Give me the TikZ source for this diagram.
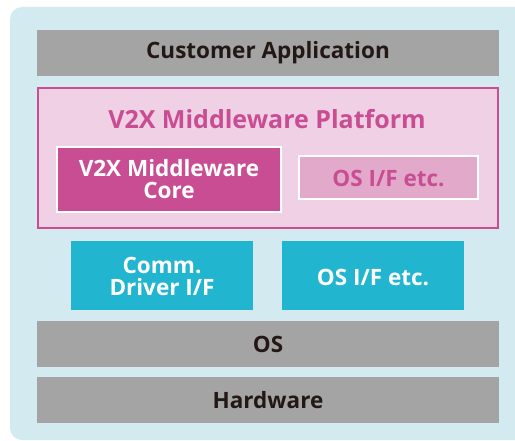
\documentclass[tikz,border=0pt]{standalone}
\usepackage{fontspec}
\newfontfamily\lblfont{Open Sans}
\definecolor{bgblue}{HTML}{D3EAF1}
\definecolor{barg}{HTML}{A3A4A3}
\definecolor{txt}{HTML}{231815}
\definecolor{pfill}{HTML}{F0D0E4}
\definecolor{pdark}{HTML}{C94D93}
\definecolor{plight}{HTML}{E2A9CB}
\definecolor{cyanb}{HTML}{22B5CF}
\tikzset{
  lbl/.style={font=\lblfont\bfseries\fontsize{22.5}{24}\selectfont, align=center},
  lbltwo/.style={font=\lblfont\bfseries\fontsize{22.5}{22}\selectfont, align=center},
  bar/.style={fill=barg, draw=none},
}
\begin{document}
\begin{tikzpicture}[x=1pt,y=-1pt]
\useasboundingbox (0,0) rectangle (515,441);
\fill[white] (0,0) rectangle (515,441);
\fill[bgblue, rounded corners=12pt] (10,7) rectangle (540,440);
% bars
\fill[bar] (37,30) rectangle (499,76);
\node[lbl, text=txt] (app) at (268,53) {Customer Application};
% platform
\draw[fill=pfill, draw=pdark, line width=1.6pt] (38,88) rectangle (498,228);
\node[lbl, text=pdark, font=\lblfont\bfseries\fontsize{25}{26}\selectfont] (plat) at (267,119) {V2X Middleware Platform};
\draw[fill=pdark, draw=white, line width=1.6pt] (57,147) rectangle (281,212);
\node[lbltwo, text=white] (core) at (169,179.5) {V2X Middleware\\Core};
\draw[fill=plight, draw=white, line width=1.6pt] (299,156) rectangle (478,199);
\node[lbl, text=pdark] (osif1) at (388.5,178) {OS I/F etc.};
% cyan
\fill[cyanb] (71,241) rectangle (253,310);
\node[lbltwo, text=white] (comm) at (162,276) {Comm.\\Driver I/F};
\fill[cyanb] (282,241) rectangle (464,310);
\node[lbl, text=white] (osif2) at (373,277) {OS I/F etc.};
% OS and HW
\fill[bar] (37,321) rectangle (499,367);
\node[lbl, text=txt] (os) at (268,344.5) {OS};
\fill[bar] (37,377) rectangle (499,423);
\node[lbl, text=txt] (hw) at (268,400.5) {Hardware};
\end{tikzpicture}
\end{document}
